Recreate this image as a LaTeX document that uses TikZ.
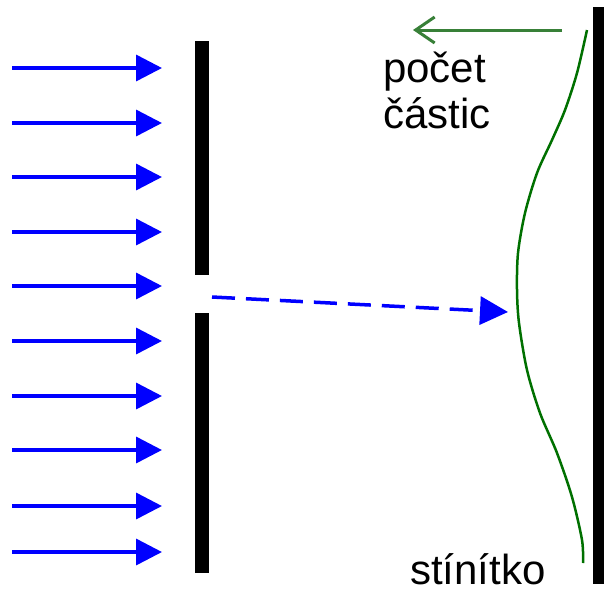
\documentclass[tikz,border=0pt]{standalone}
\usepackage{fontspec}
\setmainfont{Liberation Sans}
\usepackage{xcolor}
\usepackage{tikz}
\usetikzlibrary{positioning,arrows.meta}
\definecolor{curvegreen}{RGB}{0,112,0}
\definecolor{arrowgreen}{RGB}{56,128,56}

\begin{document}
\begin{tikzpicture}[x=1pt, y=-1pt, node distance=0cm,
    ray/.style={blue, line width=3.5pt, -{Triangle[length=26pt, width=26pt]}},
    barrier/.style={fill=black},
    lbl/.style={inner sep=0pt, anchor=base west, font=\fontsize{42}{47}\selectfont}]
    \useasboundingbox (0,0) rectangle (604,592);

    \draw[ray] (12,68) -- (162,68);
    \draw[ray] (12,123) -- (162,123);
    \draw[ray] (12,177) -- (162,177);
    \draw[ray] (12,232) -- (162,232);
    \draw[ray] (12,286) -- (162,286);
    \draw[ray] (12,341) -- (162,341);
    \draw[ray] (12,396) -- (162,396);
    \draw[ray] (12,450) -- (162,450);
    \draw[ray] (12,506) -- (162,506);
    \draw[ray] (12,552) -- (162,552);

    \fill[barrier] (195,41) rectangle (209,275);
    \fill[barrier] (195,313) rectangle (209,573);
    \fill[barrier] (593,7) rectangle (606,584);

    \coordinate (S) at (212,297);
    \coordinate (P) at (508,312);
    \draw[ray, dash pattern=on 23pt off 11pt, -{Triangle[length=28pt, width=28pt]}] (S) -- (P);

    \draw[curvegreen, line width=2.5pt] plot[smooth] coordinates
        {(587,30) (577,73) (565,110) (552,140) (537,173) (525,213) (518,253) (517,290)
         (519,323) (527,370) (540,413) (557,453) (572,497) (582,540) (583,563)};

    \coordinate (A) at (562,30);
    \coordinate (B) at (413,30);
    \draw[arrowgreen, line width=3pt, -{Straight Barb[length=19pt, width=26pt]}] (A) -- (B);

    \node[lbl] (pocet) at (383,82) {počet};
    \node[lbl, below=46pt of pocet.base west, anchor=base west] (castic) {částic};
    \node[lbl] (stinitko) at (410,584) {stínítko};
\end{tikzpicture}
\end{document}
